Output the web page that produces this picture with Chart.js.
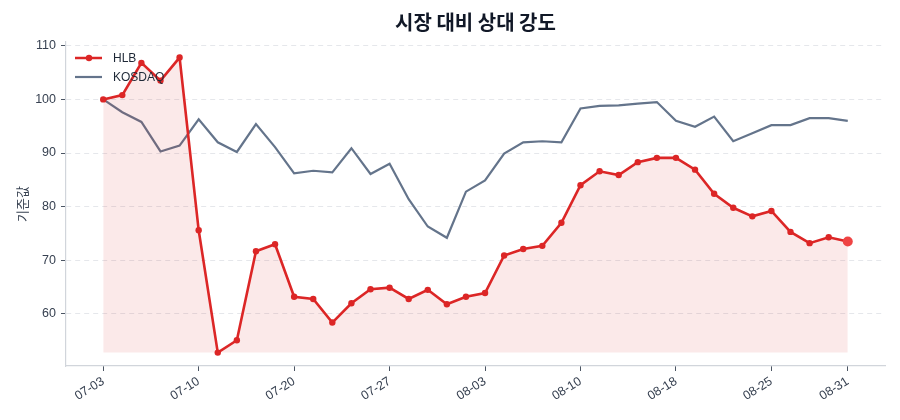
<!DOCTYPE html>
<html>
<head>
<meta charset="utf-8">
<script src="https://cdn.jsdelivr.net/npm/chart.js@4"></script>
<style>
  html, body { margin: 0; padding: 0; background: #ffffff; }
  #wrap { width: 900px; height: 420px; position: relative; }
</style>
</head>
<body>
<div id="wrap"><canvas id="c" width="900" height="420"></canvas></div>
<script>
const chartTitle = '시장 대비 상대 강도';
const yAxisTitle = '기준값';
const seriesNames = ['HLB', 'KOSDAQ'];

const dates = [
  '07-03','07-04','07-05','07-06','07-07','07-10','07-11','07-12','07-13','07-14',
  '07-20','07-21','07-24','07-25','07-26','07-27','07-28','07-31','08-01','08-02',
  '08-03','08-04','08-07','08-08','08-09','08-10','08-11','08-14','08-16','08-17',
  '08-18','08-21','08-22','08-23','08-24','08-25','08-28','08-29','08-30','08-31'
];

const hlb = [
  100.0, 100.8, 106.8, 103.5, 107.8, 75.6, 52.8, 55.1, 71.7, 73.0,
  63.2, 62.8, 58.4, 62.0, 64.6, 64.9, 62.8, 64.5, 61.8, 63.2,
  63.9, 70.9, 72.1, 72.7, 77.0, 84.0, 86.6, 85.9, 88.3, 89.1,
  89.1, 86.9, 82.4, 79.8, 78.2, 79.2, 75.3, 73.2, 74.3, 73.5
];

const kosdaq = [
  100.0, 97.6, 95.8, 90.3, 91.4, 96.3, 92.0, 90.2, 95.4, 91.1,
  86.2, 86.7, 86.4, 90.9, 86.1, 88.0, 81.4, 76.3, 74.2, 82.8,
  84.9, 89.9, 92.0, 92.2, 92.0, 98.3, 98.8, 98.9, 99.2, 99.5,
  96.0, 94.9, 96.8, 92.2, 93.7, 95.2, 95.2, 96.5, 96.5, 96.0
];

const xTickIndex = [0, 5, 10, 15, 20, 25, 30, 35, 39];
const yTicks = [60, 70, 80, 90, 100, 110];
const yMin = 50.3;
const yMax = 110.7;

const RED = '#dc2626';
const SLATE = '#64748b';
const LATIN = '"Liberation Sans", Arial, "Noto Sans CJK KR", sans-serif';
const KR = '"Noto Sans CJK KR", "Liberation Sans", sans-serif';

const n = hlb.length;
const hlbMin = Math.min(...hlb);
const xMargin = (n - 1) * 0.05;

const overlay = {
  id: 'overlay',
  afterDraw(chart) {
    const ctx = chart.ctx;
    const area = chart.chartArea;
    ctx.save();
    // title
    ctx.fillStyle = '#111827';
    ctx.font = 'bold 20px ' + KR;
    ctx.textAlign = 'center';
    ctx.textBaseline = 'middle';
    ctx.fillText(chartTitle, (area.left + area.right) / 2, 22);
    // legend
    const lx = 75, ly1 = 58, ly2 = 77;
    ctx.lineCap = 'butt';
    ctx.strokeStyle = RED; ctx.lineWidth = 2.5;
    ctx.beginPath(); ctx.moveTo(lx, ly1); ctx.lineTo(lx + 27, ly1); ctx.stroke();
    ctx.fillStyle = RED;
    ctx.beginPath(); ctx.arc(lx + 14, ly1, 3.2, 0, Math.PI * 2); ctx.fill();
    ctx.strokeStyle = SLATE; ctx.lineWidth = 2.2;
    ctx.beginPath(); ctx.moveTo(lx, ly2); ctx.lineTo(lx + 27, ly2); ctx.stroke();
    ctx.fillStyle = '#1f2937';
    ctx.font = '12px ' + LATIN;
    ctx.textAlign = 'left';
    ctx.fillText(seriesNames[0], 113, ly1 + 1);
    ctx.fillText(seriesNames[1], 113, ly2 + 1);
    ctx.restore();
  }
};

new Chart(document.getElementById('c'), {
  type: 'line',
  data: {
    datasets: [
      {
        label: seriesNames[0],
        data: hlb.map((v, i) => ({ x: i, y: v })),
        borderColor: RED,
        borderWidth: 2.6,
        backgroundColor: 'rgba(220, 38, 38, 0.10)',
        fill: { value: hlbMin },
        pointRadius: hlb.map((v, i) => i === n - 1 ? 5 : 3.2),
        pointBackgroundColor: hlb.map((v, i) => i === n - 1 ? '#ef4444' : RED),
        pointBorderWidth: 0,
        pointHoverRadius: 0,
        tension: 0
      },
      {
        label: seriesNames[1],
        data: kosdaq.map((v, i) => ({ x: i, y: v })),
        borderColor: SLATE,
        borderWidth: 2.2,
        pointRadius: 0,
        fill: false,
        tension: 0
      }
    ]
  },
  options: {
    responsive: false,
    animation: false,
    devicePixelRatio: 1,
    layout: { padding: { left: 0, right: 15, top: 42, bottom: 0 } },
    plugins: {
      legend: { display: false },
      title: { display: false },
      tooltip: { enabled: false }
    },
    scales: {
      x: {
        type: 'linear',
        min: -xMargin,
        max: n - 1 + xMargin,
        afterBuildTicks: s => { s.ticks = xTickIndex.map(v => ({ value: v })); },
        afterFit: s => { s.height = 54; },
        ticks: {
          autoSkip: false,
          maxRotation: 32,
          minRotation: 32,
          padding: 3,
          color: '#374151',
          font: { family: LATIN, size: 12.5 },
          callback: v => dates[v]
        },
        grid: {
          drawOnChartArea: false,
          drawTicks: true,
          tickLength: 5,
          tickColor: '#4b5563',
          tickWidth: 1
        },
        border: { display: true, color: '#d1d5db', width: 1.2 }
      },
      y: {
        min: yMin,
        max: yMax,
        afterBuildTicks: s => { s.ticks = yTicks.map(v => ({ value: v })); },
        afterFit: s => { s.width = 66; },
        ticks: {
          padding: 5,
          color: '#374151',
          font: { family: LATIN, size: 12.5 },
          callback: v => String(v)
        },
        grid: {
          color: '#e5e7eb',
          lineWidth: 1,
          drawTicks: true,
          tickLength: 5,
          tickColor: '#4b5563',
          tickWidth: 1,
          tickBorderDash: []
        },
        border: { display: true, color: '#d1d5db', width: 1.2, dash: [5, 4] },
        title: {
          display: true,
          text: yAxisTitle,
          color: '#374151',
          font: { family: KR, size: 13 },
          padding: { top: 14, bottom: 0 }
        }
      }
    }
  },
  plugins: [overlay]
});
</script>
</body>
</html>
